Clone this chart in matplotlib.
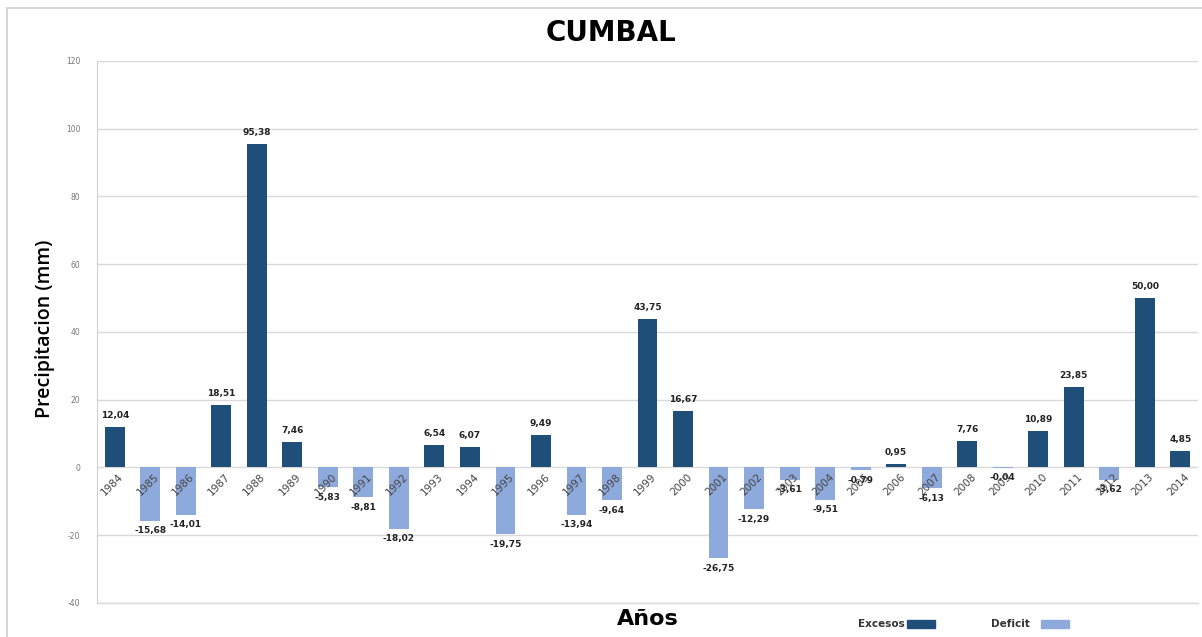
import matplotlib.pyplot as plt
from matplotlib.patches import Rectangle

# Annual precipitation anomaly, Cumbal station
years = [str(y) for y in range(1984, 2015)]
values = [12.04, -15.68, -14.01, 18.51, 95.38, 7.46, -5.83, -8.81, -18.02, 6.54,
          6.07, -19.75, 9.49, -13.94, -9.64, 43.75, 16.67, -26.75, -12.29, -3.61,
          -9.51, -0.79, 0.95, -6.13, 7.76, -0.04, 10.89, 23.85, -3.62, 50.00, 4.85]
y_ticks = [-40, -20, 0, 20, 40, 60, 80, 100, 120]

dark_blue = "#1F4E79"
light_blue = "#8EA9DB"

fig = plt.figure(figsize=(12.02, 6.37), dpi=100)
ax = fig.add_axes([0.0807, 0.0534, 0.916, 0.851])

# chart frame like the spreadsheet chart area
fig.add_artist(Rectangle((7 / 1202, -0.1), 1.2, 1.1 - 8 / 637, transform=fig.transFigure,
                         fill=False, edgecolor="#d0d0d0", linewidth=1.2))

x = list(range(len(years)))
colors = [dark_blue if v >= 0 else light_blue for v in values]
ax.bar(x, values, width=0.56, color=colors, zorder=3)

# value labels with comma decimals
for xi, v in zip(x, values):
    txt = f"{v:.2f}".replace(".", ",")
    if v >= 0:
        ax.annotate(txt, (xi, v), xytext=(0, 5), textcoords="offset points",
                    ha="center", va="bottom", fontsize=6.5, fontweight="bold", color="#222222")
    else:
        ax.annotate(txt, (xi, v), xytext=(0, -4), textcoords="offset points",
                    ha="center", va="top", fontsize=6.5, fontweight="bold", color="#222222")

# year labels sitting just under the zero line
for xi, yr in zip(x, years):
    ax.annotate(yr, (xi + 0.1, 0), xytext=(0, -3), textcoords="offset points",
                ha="right", va="top", rotation=45, rotation_mode="anchor",
                fontsize=7.5, color="#444444")

ax.set_xlim(-0.5, len(years) - 0.5)
ax.set_ylim(-40, 120)
ax.set_yticks(y_ticks)
ax.set_yticklabels([str(t) for t in y_ticks], fontsize=5.5, color="#777777")
ax.set_xticks([])
ax.tick_params(axis="y", length=0, pad=12)
ax.grid(axis="y", color="#d9d9d9", linewidth=1, zorder=0)
ax.axhline(-40, color="#d9d9d9", linewidth=1, clip_on=False, zorder=0)
for side in ["top", "right", "bottom"]:
    ax.spines[side].set_visible(False)
ax.spines["left"].set_color("#d0d0d0")

fig.text(611 / 1202, 1 - 33 / 637, "CUMBAL", ha="center", va="center",
         fontsize=20, fontweight="bold", family="DejaVu Sans")
fig.text(45 / 1202, 1 - 329 / 637, "Precipitacion (mm)", ha="center", va="center",
         rotation=90, fontsize=14, fontweight="semibold", family="Open Sans")
fig.text(648 / 1202, 1 - 619 / 637, "Años", ha="center", va="center",
         fontsize=16, fontweight="bold", family="DejaVu Sans")

# legend at the bottom: text then swatch
fig.text(905 / 1202, 1 - 624 / 637, "Excesos", ha="right", va="center",
         fontsize=7.5, fontweight="bold", color="#333333")
fig.add_artist(Rectangle((907 / 1202, 1 - 628 / 637), 28 / 1202, 8 / 637,
                         transform=fig.transFigure, color=dark_blue))
fig.text(1030 / 1202, 1 - 624 / 637, "Deficit", ha="right", va="center",
         fontsize=7.5, fontweight="bold", color="#333333")
fig.add_artist(Rectangle((1041 / 1202, 1 - 628 / 637), 28 / 1202, 8 / 637,
                         transform=fig.transFigure, color=light_blue))

fig.savefig("out.png", dpi=100)
